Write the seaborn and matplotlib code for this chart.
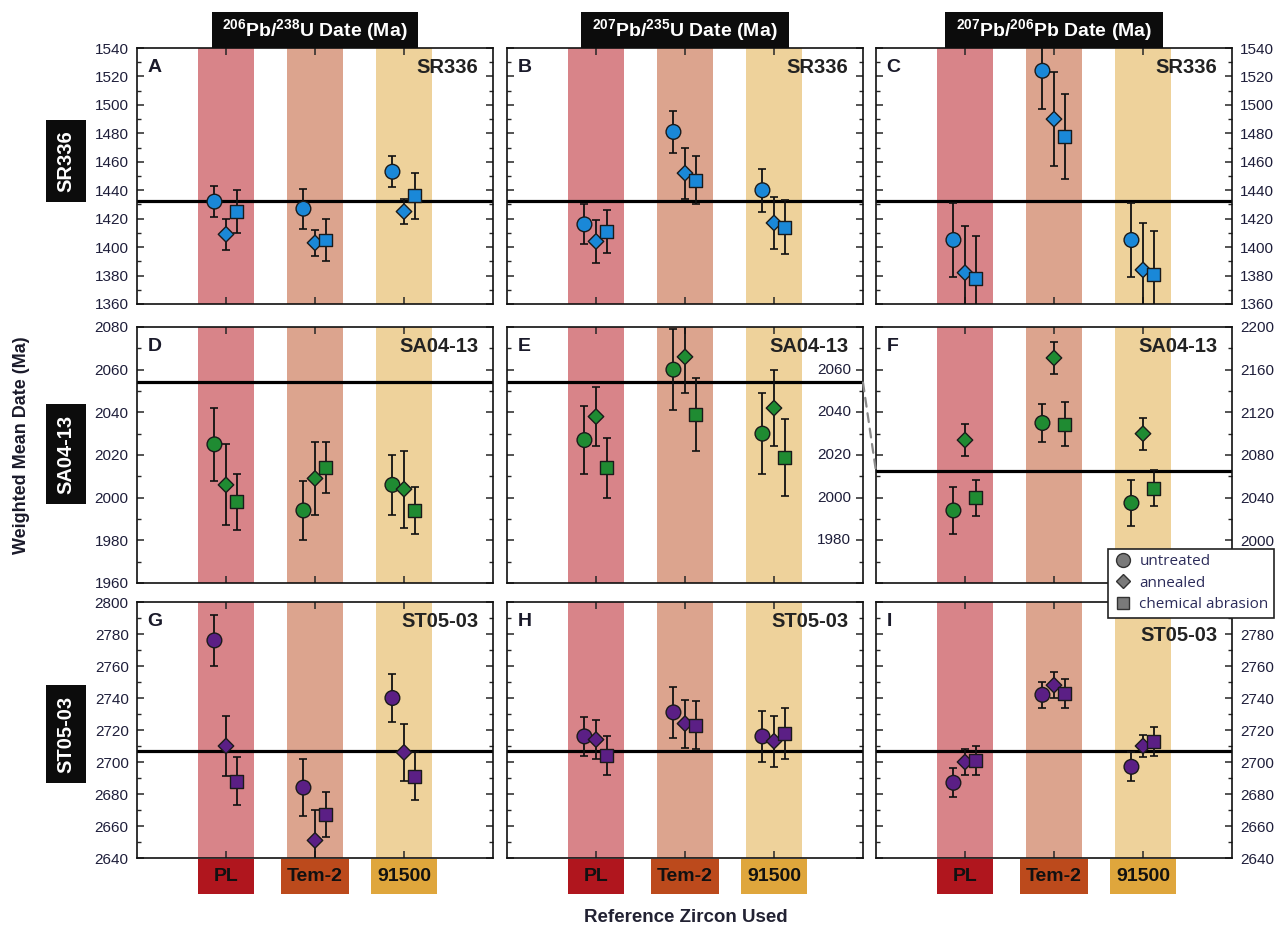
import matplotlib
matplotlib.use("Agg")
import matplotlib.pyplot as plt
import numpy as np
import pandas as pd
import seaborn as sns
from matplotlib.patches import Rectangle, ConnectionPatch
from matplotlib.ticker import MultipleLocator, NullFormatter, FuncFormatter
from matplotlib.transforms import blended_transform_factory
from matplotlib.lines import Line2D

# ---------------------------------------------------------------- data
references = ["PL", "Tem-2", "91500"]
treatments = ["untreated", "annealed", "chemical abrasion"]
samples = ["SR336", "SA04-13", "ST05-03"]
systems = ["206Pb/238U", "207Pb/235U", "207Pb/206Pb"]
panel_letters = ["A", "B", "C", "D", "E", "F", "G", "H", "I"]

# weighted mean dates (Ma); rows = reference zircon, columns = treatment
sr336_206_238 = [[1432, 1409, 1425], [1427, 1403, 1405], [1453, 1425, 1436]]
sr336_206_238_err = [[11, 11, 15], [14, 9, 15], [11, 9, 16]]
sr336_207_235 = [[1416, 1404, 1411], [1481, 1452, 1447], [1440, 1417, 1414]]
sr336_207_235_err = [[14, 15, 15], [15, 18, 17], [15, 18, 19]]
sr336_207_206 = [[1405, 1382, 1378], [1524, 1490, 1478], [1405, 1384, 1381]]
sr336_207_206_err = [[26, 33, 30], [27, 33, 30], [26, 33, 30]]

sa0413_206_238 = [[2025, 2006, 1998], [1994, 2009, 2014], [2006, 2004, 1994]]
sa0413_206_238_err = [[17, 19, 13], [14, 17, 12], [14, 18, 11]]
sa0413_207_235 = [[2027, 2038, 2014], [2060, 2066, 2039], [2030, 2042, 2019]]
sa0413_207_235_err = [[16, 14, 14], [19, 17, 17], [19, 18, 18]]
sa0413_207_206 = [[2028, 2094, 2040], [2110, 2171, 2109], [2035, 2100, 2049]]
sa0413_207_206_err = [[22, 15, 17], [18, 15, 21], [22, 15, 17]]

st0503_206_238 = [[2776, 2710, 2688], [2684, 2651, 2667], [2740, 2706, 2691]]
st0503_206_238_err = [[16, 19, 15], [18, 19, 14], [15, 18, 15]]
st0503_207_235 = [[2716, 2714, 2704], [2731, 2724, 2723], [2716, 2713, 2718]]
st0503_207_235_err = [[12, 12, 12], [16, 15, 15], [16, 16, 16]]
st0503_207_206 = [[2687, 2700, 2701], [2742, 2748, 2743], [2697, 2710, 2713]]
st0503_207_206_err = [[9, 8, 9], [8, 8, 9], [9, 7, 9]]

# reference (ID-TIMS) dates for each sample and isotopic system
sr336_ref = [1432.5, 1432.5, 1432.5]
sa0413_ref = [2054, 2054, 2064.6]
st0503_ref = [2707, 2707, 2707]

# axis ranges and tick steps (lo, hi, major, minor)
sr336_axes = [(1360, 1540, 20, 10)] * 3
sa0413_axes = [(1960, 2080, 20, 10), (1960, 2080, 20, 10), (1960, 2200, 40, 20)]
st0503_axes = [(2640, 2800, 20, 10)] * 3

dates = [[sr336_206_238, sr336_207_235, sr336_207_206],
         [sa0413_206_238, sa0413_207_235, sa0413_207_206],
         [st0503_206_238, st0503_207_235, st0503_207_206]]
errors = [[sr336_206_238_err, sr336_207_235_err, sr336_207_206_err],
          [sa0413_206_238_err, sa0413_207_235_err, sa0413_207_206_err],
          [st0503_206_238_err, st0503_207_235_err, st0503_207_206_err]]
ref_dates = [sr336_ref, sa0413_ref, st0503_ref]
axis_specs = [sr336_axes, sa0413_axes, st0503_axes]

records = []
for si, s in enumerate(samples):
    for ci, sy in enumerate(systems):
        for ri, r in enumerate(references):
            for ti, t in enumerate(treatments):
                records.append(dict(sample=s, system=sy, reference=r, ref_idx=ri,
                                    treatment=t, date=dates[si][ci][ri][ti],
                                    err=errors[si][ci][ri][ti]))
df = pd.DataFrame(records)

# ---------------------------------------------------------------- style
sns.set_theme(style="ticks")
plt.rcParams["font.family"] = ["Liberation Sans", "DejaVu Sans"]
plt.rcParams["mathtext.fontset"] = "custom"
plt.rcParams["mathtext.rm"] = "Liberation Sans:bold"
plt.rcParams["mathtext.bf"] = "Liberation Sans:bold"
plt.rcParams["mathtext.it"] = "Liberation Sans:bold"

sample_colors = {"SR336": "#1a88d8", "SA04-13": "#1f8b32", "ST05-03": "#5b1f85"}
band_colors = {"PL": "#d88489", "Tem-2": "#dca48e", "91500": "#eed29b"}
box_colors = {"PL": "#b0161e", "Tem-2": "#bc4a1c", "91500": "#dfa63c"}
box_widths = {"PL": 0.63, "Tem-2": 0.76, "91500": 0.75}
marker_map = {"untreated": "o", "annealed": "D", "chemical abrasion": "s"}
size_map = {"untreated": 112, "annealed": 62, "chemical abrasion": 86}
x_offsets = {"untreated": -0.13, "annealed": 0.0, "chemical abrasion": 0.12}
tick_color = "#1e1e3a"
text_dark = "#1a1a2a"

W, H = 1282, 933
fig = plt.figure(figsize=(W / 100, H / 100), dpi=100)
col_left = [137, 507, 876]
row_top = [48, 327, 602]
ax_w, ax_h = 356, 256

df["xpos"] = df["ref_idx"] + 1 + df["treatment"].map(x_offsets)

axes = [[None] * 3 for _ in range(3)]
for si, s in enumerate(samples):
    for ci, sy in enumerate(systems):
        ax = fig.add_axes([col_left[ci] / W, 1 - (row_top[si] + ax_h) / H, ax_w / W, ax_h / H])
        axes[si][ci] = ax
        lo, hi, major, minor = axis_specs[si][ci]
        ax.set_xlim(0, 4)
        ax.set_ylim(lo, hi)
        ax.set_facecolor("white")

        for ri, r in enumerate(references):
            ax.axvspan(ri + 1 - 0.31, ri + 1 + 0.31, color=band_colors[r], lw=0, zorder=0)

        ax.axhline(ref_dates[si][ci], color="black", lw=2.3, zorder=2)

        sub = df[(df["sample"] == s) & (df["system"] == sy)]
        ax.errorbar(sub["xpos"], sub["date"], yerr=sub["err"], fmt="none",
                    ecolor="#111111", elinewidth=1.3, capsize=3, capthick=1.2, zorder=2.5)
        sns.scatterplot(data=sub, x="xpos", y="date", style="treatment",
                        style_order=treatments, markers=marker_map,
                        size="treatment", size_order=treatments, sizes=size_map,
                        color=sample_colors[s], edgecolor="#1a1a1a", linewidth=1.0,
                        legend=False, ax=ax, zorder=3)
        ax.set_xlabel("")
        ax.set_ylabel("")

        ax.set_xticks([1, 2, 3])
        ax.xaxis.set_major_formatter(NullFormatter())
        ax.yaxis.set_major_locator(MultipleLocator(major))
        ax.yaxis.set_minor_locator(MultipleLocator(minor))
        ax.tick_params(axis="both", which="major", direction="in", length=5, width=1.1,
                       top=True, bottom=True, left=True, right=True,
                       labelbottom=False, labelsize=11, labelcolor=tick_color)
        ax.tick_params(axis="y", which="minor", direction="in", length=3, width=1.0,
                       left=True, right=True)
        ax.tick_params(axis="x", which="minor", bottom=False, top=False)
        ax.tick_params(axis="y", labelleft=(ci == 0), labelright=(ci == 2), pad=6)
        for sp in ax.spines.values():
            sp.set_linewidth(1.2)
            sp.set_color("#111111")

        ax.text(0.03, 0.925, panel_letters[si * 3 + ci], transform=ax.transAxes,
                fontsize=14, fontweight="bold", color=text_dark, ha="left", va="center")
        name_y = 0.87 if (si == 2 and ci == 2) else 0.925
        ax.text(0.958, name_y, s, transform=ax.transAxes, fontsize=14.5,
                fontweight="bold", color="#222222", ha="right", va="center")

# the top label of panel I sits beneath the legend
axes[2][2].yaxis.set_major_formatter(
    FuncFormatter(lambda v, p: "" if v >= 2800 else f"{v:.0f}"))

# column headers
headers = [r"$^{206}$Pb/$^{238}$U Date (Ma)",
           r"$^{207}$Pb/$^{235}$U Date (Ma)",
           r"$^{207}$Pb/$^{206}$Pb Date (Ma)"]
header_w = [0.576, 0.584, 0.61]
for ci, htxt in enumerate(headers):
    ax = axes[0][ci]
    ax.add_patch(Rectangle((0.5 - header_w[ci] / 2, 1.0), header_w[ci], 0.14,
                           transform=ax.transAxes, facecolor="#0c0c0c",
                           edgecolor="none", clip_on=False, zorder=5))
    ax.text(0.5, 1.07, htxt, transform=ax.transAxes, ha="center", va="center",
            fontsize=14, fontweight="bold", color="white", zorder=6)

# sample labels on the left
row_centers = [161, 454, 734]
for si, s in enumerate(samples):
    fig.text(66 / W, 1 - row_centers[si] / H, s, rotation=90, ha="center", va="center",
             fontsize=14.5, fontweight="bold", color="white",
             bbox=dict(boxstyle="square,pad=0.5", facecolor="#0c0c0c", edgecolor="none"))

# reference zircon boxes under the bottom row
for ci in range(3):
    ax = axes[2][ci]
    trans = blended_transform_factory(ax.transData, ax.transAxes)
    for ri, r in enumerate(references):
        w = box_widths[r]
        ax.add_patch(Rectangle((ri + 1 - w / 2, -0.14), w, 0.136, transform=trans,
                               facecolor=box_colors[r], edgecolor="none", clip_on=False))
        ax.text(ri + 1, -0.072, r, transform=trans, ha="center", va="center",
                fontsize=14, fontweight="bold", color="#111111")

# inner scale of panel E
axE, axF = axes[1][1], axes[1][2]
transE = blended_transform_factory(axE.transAxes, axE.transData)
for v in [1980, 2000, 2020, 2040, 2060]:
    axE.text(0.966, v, str(v), transform=transE, ha="right", va="center",
             fontsize=11, color=tick_color, zorder=4)

# dashed link between the SA04-13 reference dates of panels E and F
con = ConnectionPatch(xyA=(1.0, sa0413_ref[1]), coordsA=transE,
                      xyB=(0.0, sa0413_ref[2]),
                      coordsB=blended_transform_factory(axF.transAxes, axF.transData),
                      linestyle=(0, (4, 3)), color="#8a8a8a", lw=1.6)
fig.add_artist(con)

# axis titles
fig.text(22 / W, 1 - 445 / H, "Weighted Mean Date (Ma)", rotation=90, ha="center",
         va="center", fontsize=13, fontweight="bold", color=text_dark)
fig.text(686 / W, 1 - 918 / H, "Reference Zircon Used", ha="center", va="center",
         fontsize=13.5, fontweight="bold", color="#222233")

# legend for treatment symbols
handles = [Line2D([], [], linestyle="none", marker=marker_map[t], markerfacecolor="#7a7a7a",
                  markeredgecolor="#333333", markeredgewidth=1.0,
                  markersize={"untreated": 10, "annealed": 7.5, "chemical abrasion": 9}[t])
           for t in treatments]
leg = fig.legend(handles, treatments, loc="upper left",
                 bbox_to_anchor=(1108 / W, 1 - 549 / H), frameon=True, fancybox=False,
                 edgecolor="#222222", framealpha=1, borderpad=0.35, labelspacing=0.42,
                 handletextpad=0.5, handlelength=1.2, borderaxespad=0,
                 prop=dict(family="Open Sans", size=11), labelcolor="#2c2c5a")
leg.get_frame().set_linewidth(1.2)

fig.savefig("out.png", dpi=100)
